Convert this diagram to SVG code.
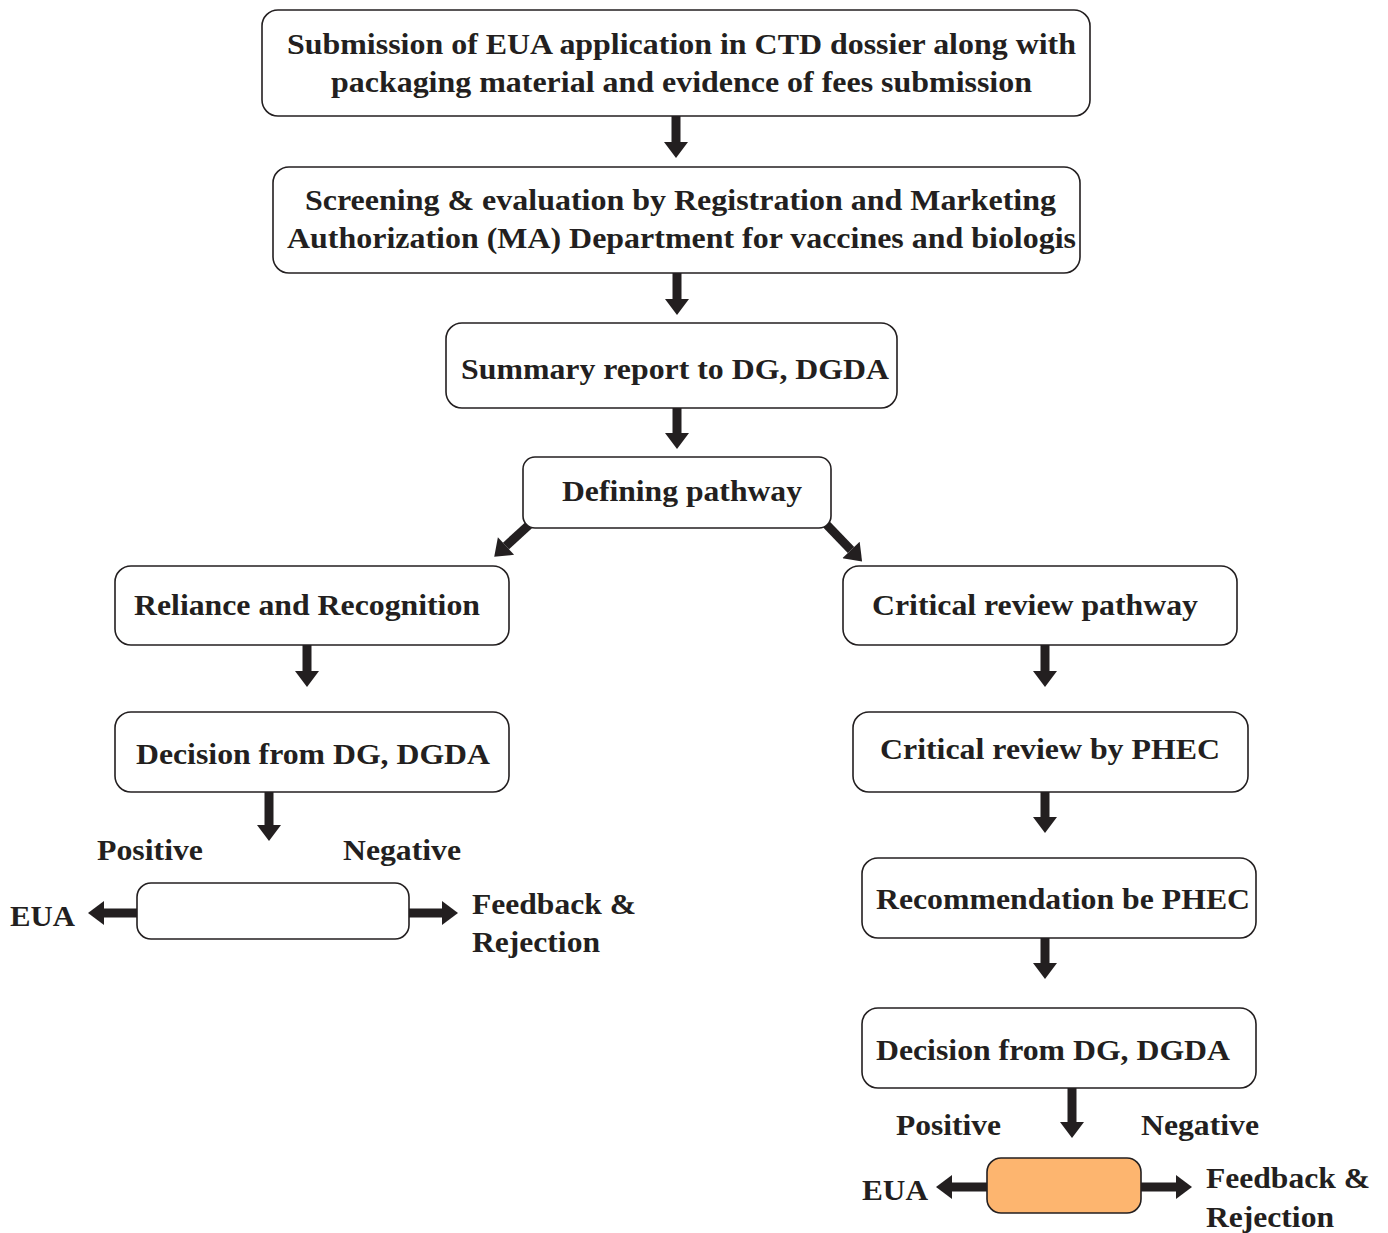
<svg xmlns="http://www.w3.org/2000/svg" width="1388" height="1233" viewBox="0 0 1388 1233">
<defs>
<style>
.box{fill:#fff;stroke:#231f20;stroke-width:1.6}
.t{font-family:"Liberation Serif","Times New Roman",Times,serif;font-weight:700;font-size:30px;fill:#231f20}
.c{stroke:#231f20;stroke-width:9;fill:none}
</style>
<marker id="ah" markerUnits="userSpaceOnUse" markerWidth="24" markerHeight="24" viewBox="0 0 16 24" refX="0" refY="12" orient="auto">
<path d="M0,0 L16,12 L0,24 Z" fill="#231f20"/>
</marker>
</defs>
<rect width="1388" height="1233" fill="#fff"/>
<g id="connectors">
<line class="c" x1="676" y1="116" x2="676" y2="142" marker-end="url(#ah)"/>
<line class="c" x1="677" y1="273" x2="677" y2="299" marker-end="url(#ah)"/>
<line class="c" x1="677" y1="408" x2="677" y2="433" marker-end="url(#ah)"/>
<line class="c" x1="530" y1="524" x2="506" y2="546" marker-end="url(#ah)"/>
<line class="c" x1="826" y1="524" x2="851" y2="550" marker-end="url(#ah)"/>
<line class="c" x1="307" y1="645" x2="307" y2="671" marker-end="url(#ah)"/>
<line class="c" x1="1045" y1="645" x2="1045" y2="671" marker-end="url(#ah)"/>
<line class="c" x1="269" y1="792" x2="269" y2="825" marker-end="url(#ah)"/>
<line class="c" x1="1045" y1="792" x2="1045" y2="817" marker-end="url(#ah)"/>
<line class="c" x1="1045" y1="938" x2="1045" y2="963" marker-end="url(#ah)"/>
<line class="c" x1="1072" y1="1088" x2="1072" y2="1122" marker-end="url(#ah)"/>
<line class="c" x1="137" y1="913" x2="104" y2="913" marker-end="url(#ah)"/>
<line class="c" x1="409" y1="913" x2="442" y2="913" marker-end="url(#ah)"/>
<line class="c" x1="987" y1="1187" x2="952" y2="1187" marker-end="url(#ah)"/>
<line class="c" x1="1141" y1="1187" x2="1176" y2="1187" marker-end="url(#ah)"/>
</g>
<g id="n1">
<rect class="box" x="262" y="10" width="828" height="106" rx="16"/>
<text class="t" x="287" y="54" textLength="789" lengthAdjust="spacingAndGlyphs">Submission of EUA application in CTD dossier along with</text>
<text class="t" x="331" y="92" textLength="701" lengthAdjust="spacingAndGlyphs">packaging material and evidence of fees submission</text>
</g>
<g id="n2">
<rect class="box" x="273" y="167" width="807" height="106" rx="16"/>
<text class="t" x="305" y="210" textLength="751" lengthAdjust="spacingAndGlyphs">Screening &amp; evaluation by Registration and Marketing</text>
<text class="t" x="287" y="248" textLength="789" lengthAdjust="spacingAndGlyphs">Authorization (MA) Department for vaccines and biologis</text>
</g>
<g id="n3">
<rect class="box" x="446" y="323" width="451" height="85" rx="16"/>
<text class="t" x="461" y="379" textLength="428" lengthAdjust="spacingAndGlyphs">Summary report to DG, DGDA</text>
</g>
<g id="n4">
<rect class="box" x="523" y="457" width="308" height="71" rx="12"/>
<text class="t" x="562" y="501" textLength="240" lengthAdjust="spacingAndGlyphs">Defining pathway</text>
</g>
<g id="n5">
<rect class="box" x="115" y="566" width="394" height="79" rx="16"/>
<text class="t" x="134" y="615" textLength="346" lengthAdjust="spacingAndGlyphs">Reliance and Recognition</text>
</g>
<g id="n6">
<rect class="box" x="843" y="566" width="394" height="79" rx="16"/>
<text class="t" x="872" y="615" textLength="326" lengthAdjust="spacingAndGlyphs">Critical review pathway</text>
</g>
<g id="n7">
<rect class="box" x="115" y="712" width="394" height="80" rx="16"/>
<text class="t" x="136" y="764" textLength="354" lengthAdjust="spacingAndGlyphs">Decision from DG, DGDA</text>
</g>
<g id="n8">
<rect class="box" x="853" y="712" width="395" height="80" rx="16"/>
<text class="t" x="880" y="759" textLength="340" lengthAdjust="spacingAndGlyphs">Critical review by PHEC</text>
</g>
<g id="n9">
<rect class="box" x="862" y="858" width="394" height="80" rx="16"/>
<text class="t" x="876" y="909" textLength="374" lengthAdjust="spacingAndGlyphs">Recommendation be PHEC</text>
</g>
<g id="n10">
<rect class="box" x="862" y="1008" width="394" height="80" rx="16"/>
<text class="t" x="876" y="1060" textLength="354" lengthAdjust="spacingAndGlyphs">Decision from DG, DGDA</text>
</g>
<g id="n11">
<rect class="box" x="137" y="883" width="272" height="56" rx="14"/>
</g>
<g id="n12">
<rect class="box" x="987" y="1158" width="154" height="55" rx="14" style="fill:#fdb56f"/>
</g>
<g id="labels">
<text class="t" x="97" y="860" textLength="106" lengthAdjust="spacingAndGlyphs">Positive</text>
<text class="t" x="343" y="860" textLength="118" lengthAdjust="spacingAndGlyphs">Negative</text>
<text class="t" x="10" y="926" textLength="65" lengthAdjust="spacingAndGlyphs">EUA</text>
<text class="t" x="472" y="914" textLength="164" lengthAdjust="spacingAndGlyphs">Feedback &amp;</text>
<text class="t" x="472" y="952" textLength="128" lengthAdjust="spacingAndGlyphs">Rejection</text>
<text class="t" x="896" y="1135" textLength="105" lengthAdjust="spacingAndGlyphs">Positive</text>
<text class="t" x="1141" y="1135" textLength="118" lengthAdjust="spacingAndGlyphs">Negative</text>
<text class="t" x="862" y="1200" textLength="66" lengthAdjust="spacingAndGlyphs">EUA</text>
<text class="t" x="1206" y="1188" textLength="164" lengthAdjust="spacingAndGlyphs">Feedback &amp;</text>
<text class="t" x="1206" y="1227" textLength="128" lengthAdjust="spacingAndGlyphs">Rejection</text>
</g>
</svg>
